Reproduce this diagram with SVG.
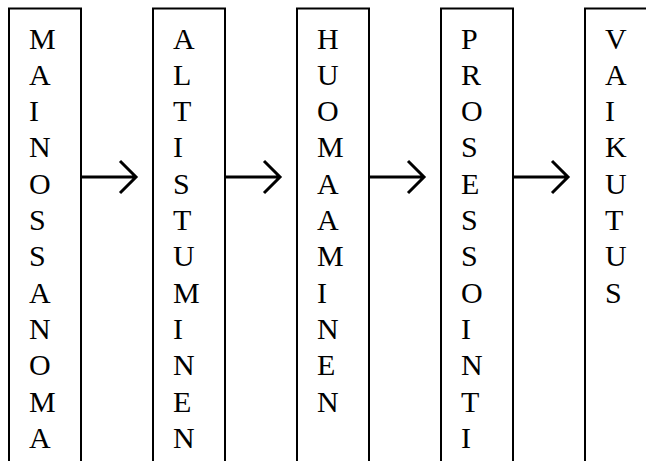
<svg xmlns="http://www.w3.org/2000/svg" width="646" height="461" viewBox="0 0 646 461">
<style>
.box{fill:#fff;stroke:#000;stroke-width:2}
.lbl{font-family:"Liberation Serif","Times New Roman",serif;font-size:30px;fill:#000}
.arr{fill:none;stroke:#000;stroke-width:3}
</style>
<rect width="646" height="461" fill="#fff"/>
<g id="n1">
<rect class="box" x="9" y="8.5" width="72" height="470"/>
<text class="lbl"><tspan x="29" y="48.5">M</tspan><tspan x="29" y="84.8">A</tspan><tspan x="29" y="121.1">I</tspan><tspan x="29" y="157.4">N</tspan><tspan x="29" y="193.7">O</tspan><tspan x="29" y="230">S</tspan><tspan x="29" y="266.3">S</tspan><tspan x="29" y="302.6">A</tspan><tspan x="29" y="338.9">N</tspan><tspan x="29" y="375.2">O</tspan><tspan x="29" y="411.5">M</tspan><tspan x="29" y="447.8">A</tspan></text>
</g>
<g id="n2">
<rect class="box" x="153" y="8.5" width="72" height="470"/>
<text class="lbl"><tspan x="173" y="48.5">A</tspan><tspan x="173" y="84.8">L</tspan><tspan x="173" y="121.1">T</tspan><tspan x="173" y="157.4">I</tspan><tspan x="173" y="193.7">S</tspan><tspan x="173" y="230">T</tspan><tspan x="173" y="266.3">U</tspan><tspan x="173" y="302.6">M</tspan><tspan x="173" y="338.9">I</tspan><tspan x="173" y="375.2">N</tspan><tspan x="173" y="411.5">E</tspan><tspan x="173" y="447.8">N</tspan></text>
</g>
<g id="n3">
<rect class="box" x="297" y="8.5" width="72" height="470"/>
<text class="lbl"><tspan x="317" y="48.5">H</tspan><tspan x="317" y="84.8">U</tspan><tspan x="317" y="121.1">O</tspan><tspan x="317" y="157.4">M</tspan><tspan x="317" y="193.7">A</tspan><tspan x="317" y="230">A</tspan><tspan x="317" y="266.3">M</tspan><tspan x="317" y="302.6">I</tspan><tspan x="317" y="338.9">N</tspan><tspan x="317" y="375.2">E</tspan><tspan x="317" y="411.5">N</tspan></text>
</g>
<g id="n4">
<rect class="box" x="441" y="8.5" width="72" height="470"/>
<text class="lbl"><tspan x="461" y="48.5">P</tspan><tspan x="461" y="84.8">R</tspan><tspan x="461" y="121.1">O</tspan><tspan x="461" y="157.4">S</tspan><tspan x="461" y="193.7">E</tspan><tspan x="461" y="230">S</tspan><tspan x="461" y="266.3">S</tspan><tspan x="461" y="302.6">O</tspan><tspan x="461" y="338.9">I</tspan><tspan x="461" y="375.2">N</tspan><tspan x="461" y="411.5">T</tspan><tspan x="461" y="447.8">I</tspan></text>
</g>
<g id="n5">
<rect class="box" x="585" y="8.5" width="72" height="470"/>
<text class="lbl"><tspan x="605" y="48.5">V</tspan><tspan x="605" y="84.8">A</tspan><tspan x="605" y="121.1">I</tspan><tspan x="605" y="157.4">K</tspan><tspan x="605" y="193.7">U</tspan><tspan x="605" y="230">T</tspan><tspan x="605" y="266.3">U</tspan><tspan x="605" y="302.6">S</tspan></text>
</g>
<g id="connectors">
<path class="arr" d="M81 177H136M120 161L136 177L120 193"/>
<path class="arr" d="M225 177H280M264 161L280 177L264 193"/>
<path class="arr" d="M369 177H424M408 161L424 177L408 193"/>
<path class="arr" d="M513 177H568M552 161L568 177L552 193"/>
</g>
</svg>
